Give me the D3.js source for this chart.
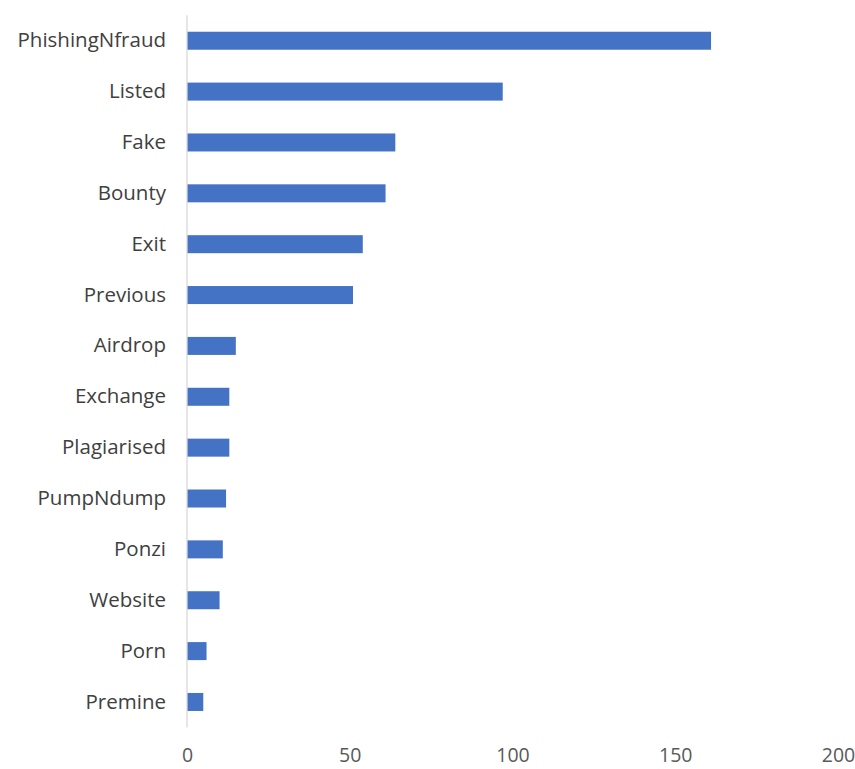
<!DOCTYPE html>
<html>
<head>
<meta charset="utf-8">
<script src="https://cdn.jsdelivr.net/npm/d3@7"></script>
<style>
  html, body { margin: 0; padding: 0; background: #fff; }
  svg { display: block; }
</style>
</head>
<body>
<svg id="chart" width="855" height="769"></svg>
<script>
// Scam categories and their counts
const categories = [
  "PhishingNfraud", "Listed", "Fake", "Bounty", "Exit", "Previous", "Airdrop",
  "Exchange", "Plagiarised", "PumpNdump", "Ponzi", "Website", "Porn", "Premine"
];
const counts = [161, 97, 64, 61, 54, 51, 15, 13, 13, 12, 11, 10, 6, 5];
const xTicks = [0, 50, 100, 150, 200];

const svg = d3.select("#chart");
const plot = { left: 187, right: 838, top: 15.3, bottom: 727.4 };

const x = d3.scaleLinear().domain([0, 200]).range([plot.left, plot.right]);
const y = d3.scaleBand()
  .domain(categories)
  .range([plot.top, plot.bottom])
  .paddingInner(0.646)
  .paddingOuter(0.323);

const font = "'Open Sans', 'Noto Sans', sans-serif";

// Bars
svg.append("g")
  .selectAll("rect")
  .data(categories.map((c, i) => ({ c, v: counts[i] })))
  .join("rect")
  .attr("x", x(0))
  .attr("y", d => y(d.c))
  .attr("width", d => x(d.v) - x(0))
  .attr("height", y.bandwidth())
  .attr("fill", "#4472C4");

// Vertical category axis line
svg.append("line")
  .attr("x1", x(0)).attr("x2", x(0))
  .attr("y1", plot.top).attr("y2", plot.bottom)
  .attr("stroke", "#d9d9d9")
  .attr("stroke-width", 1.3);

// Category labels
const yAxis = svg.append("g")
  .attr("transform", `translate(${x(0)},0)`)
  .call(d3.axisLeft(y).tickSize(0).tickPadding(21));
yAxis.select(".domain").remove();
yAxis.selectAll("text")
  .attr("font-family", font)
  .attr("font-size", 20.5)
  .attr("fill", "#404040");

// Value axis labels
const xAxis = svg.append("g")
  .attr("transform", `translate(0,${plot.bottom})`)
  .call(d3.axisBottom(x).tickValues(xTicks).tickSize(0).tickPadding(21));
xAxis.select(".domain").remove();
xAxis.selectAll("text")
  .attr("font-family", font)
  .attr("font-size", 19.5)
  .attr("fill", "#595959");
</script>
</body>
</html>
